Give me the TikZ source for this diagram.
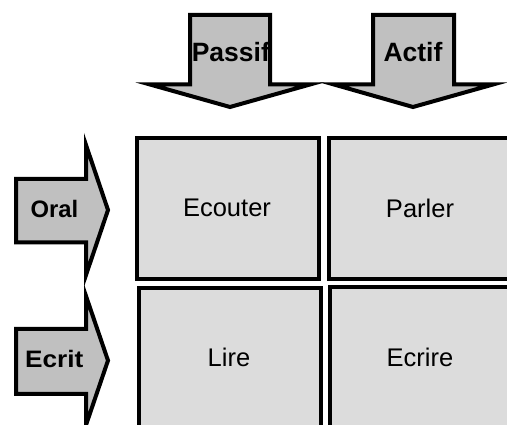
\documentclass[tikz,border=0pt]{standalone}
\usepackage{fontspec}
\setmainfont{Liberation Sans}
\definecolor{boxgray}{RGB}{220,220,220}
\definecolor{arrowgray}{RGB}{192,192,192}
\begin{document}
\begin{tikzpicture}[x=1pt,y=-1pt,
  cell/.style={draw=black,line width=4.5pt,fill=boxgray},
  bigarrow/.style={draw=black,line width=4pt,fill=arrowgray,line join=miter},
  celltext/.style={font=\fontsize{25.5}{30}\selectfont,inner sep=0pt},
  arrowtext/.style={font=\fontsize{26.5}{30}\selectfont\bfseries,inner sep=0pt},
  sidetext/.style={font=\fontsize{23.8}{28}\selectfont\bfseries,inner sep=0pt}]
\useasboundingbox (0,0) rectangle (507,425);
\clip (0,0) rectangle (507,425);
\fill[white] (0,0) rectangle (507,425);
% cells
\draw[cell] (137,138) rectangle (319,279);
\draw[cell] (329,138) rectangle (530,279);
\draw[cell] (139,288) rectangle (321,450);
\draw[cell] (330,287) rectangle (530,450);
\node[celltext] (ecouter) at (227,208) {Ecouter};
\node[celltext] (parler) at (420,208) {Parler};
\node[celltext] (lire) at (229,357) {Lire};
\node[celltext] (ecrire) at (420,357) {Ecrire};
% top arrows
\draw[bigarrow] (190,15) -- (270,15) -- (270,84.5) -- (310,84.5) -- (230,107) -- (150,84.5) -- (190,84.5) -- cycle;
\draw[bigarrow] (373,15) -- (454,15) -- (454,84.5) -- (493,84.5) -- (413,107) -- (334,84.5) -- (373,84.5) -- cycle;
\node[arrowtext] (passif) at (230.8,52.5) {Passif};
\node[arrowtext] (actif) at (413,52.5) {Actif};
% left arrows
\draw[bigarrow] (16,179) -- (86,179) -- (86,145) -- (108,210) -- (86,275) -- (86,242.5) -- (16,242.5) -- cycle;
\draw[bigarrow] (16,329) -- (86,329) -- (86,296) -- (108,360.5) -- (86,425) -- (86,394) -- (16,394) -- cycle;
\node[sidetext] (oral) at (54.5,208.5) {Oral};
\node[sidetext] (ecrit) at (54.3,359.2) {\scalebox{1.1}[1]{Ecrit}};
\end{tikzpicture}
\end{document}
